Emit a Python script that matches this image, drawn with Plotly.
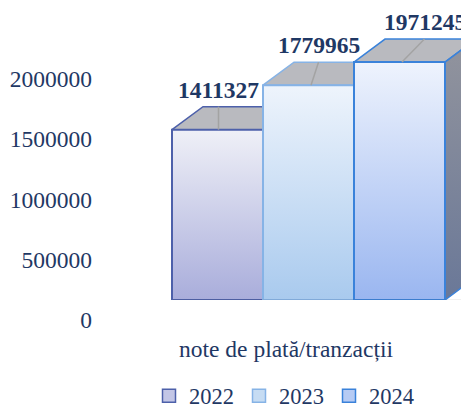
import plotly.graph_objects as go

# ---- data ----
years = ["2022", "2023", "2024"]
values = [1411327, 1779965, 1971245]
category = "note de plată/tranzacții"
y_ticks = [0, 500000, 1000000, 1500000, 2000000]

# ---- styles ----
FONT = "Liberation Serif, Times New Roman, serif"
NAVY = "#1f3864"
front_top = ["#eff0f7", "#eef4fc", "#eef3fd"]
front_bot = ["#a9addb", "#a9caee", "#9ab6f0"]
legend_fill = ["#c3c6e6", "#c6dcf3", "#b6cbf4"]
edge = ["#4d60aa", "#86b3e6", "#3a82da"]
top_fill = "#b9babf"

W, H = 469, 410
OFF = 8                            # page body margin offset
ML, MT = 100 - OFF, 10 - OFF
PLOT_BOTTOM = 300 - OFF
MB = H - PLOT_BOTTOM
MR = 0
plot_w = W - ML - MR
plot_h = H - MT - MB
px_x = 91.0                       # pixels per category unit
px_y = 120.7e-6                   # pixels per value unit
xmin = -0.5 - 72 / px_x
xmax = xmin + plot_w / px_x
ymax = plot_h / px_y
DX = 31 / px_x                    # depth offset (x, data units)
DY = 23 / px_y                    # depth offset (y, data units)
LABEL_DX_PX = [1, 10, 25]
LEAD_DX_PX = [1, 2.5, 2.5]

fig = go.Figure()

n = len(values)
for i, (yr, v) in enumerate(zip(years, values)):
    x0, x1 = i - 0.5, i + 0.5
    # top face
    fig.add_trace(go.Scatter(
        x=[x0, x1, x1 + DX, x0 + DX, x0], y=[v, v, v + DY, v + DY, v],
        mode="lines", fill="toself", fillcolor=top_fill,
        line=dict(color=edge[i], width=1.5), showlegend=False, hoverinfo="skip"))
    # right side face for last bar
    if i == n - 1:
        fig.add_trace(go.Scatter(
            x=[x1, x1, x1 + DX, x1 + DX, x1], y=[0, v, v + DY, DY, 0],
            mode="lines", fill="toself",
            fillgradient=dict(type="vertical", colorscale=[[0, "#6a7898"], [1, "#92949d"]]),
            line=dict(color=edge[i], width=1.5), showlegend=False, hoverinfo="skip"))
    # front face
    fig.add_trace(go.Scatter(
        x=[x0, x1, x1, x0, x0], y=[0, 0, v, v, 0],
        mode="lines", fill="toself",
        fillgradient=dict(type="vertical", colorscale=[[0, front_bot[i]], [1, front_top[i]]]),
        line=dict(color=edge[i], width=2), showlegend=False, name=yr,
        hovertemplate=yr + ": %{text}<extra></extra>", text=[v] * 5))
    # leader line
    lx = i + LABEL_DX_PX[i] / px_x
    fig.add_trace(go.Scatter(
        x=[i + LEAD_DX_PX[i] / px_x, lx], y=[v, v + DY],
        mode="lines", line=dict(color="#a3a3a3", width=1.5),
        showlegend=False, hoverinfo="skip"))
    # data label
    fig.add_annotation(x=lx, y=v + DY, text=f"<b>{v}</b>", showarrow=False,
                       yanchor="bottom", yshift=2,
                       font=dict(family=FONT, size=23.5, color=NAVY))

# shadow below bars
fig.add_trace(go.Scatter(x=[-0.5, n - 0.5 + DX * 0.8], y=[-0.01e6, -0.01e6], mode="lines",
                         line=dict(color="rgba(90,90,90,0.35)", width=3),
                         showlegend=False, hoverinfo="skip"))

# legend-only entries
for i, yr in enumerate(years):
    fig.add_trace(go.Scatter(
        x=[None], y=[None], mode="markers", name=yr,
        marker=dict(symbol="square", size=13, color=legend_fill[i],
                    line=dict(color=edge[i], width=1.5))))

fig.add_annotation(x=(286 - OFF - ML) / plot_w, xref="paper",
                   y=(PLOT_BOTTOM - (349 - OFF)) / plot_h, yref="paper",
                   text=category, showarrow=False, yanchor="middle", xanchor="center",
                   font=dict(family=FONT, size=23.5, color=NAVY))

fig.update_layout(
    width=W, height=H,
    margin=dict(l=ML, r=MR, t=MT, b=MB, autoexpand=False),
    plot_bgcolor="white", paper_bgcolor="white",
    font=dict(family=FONT, color=NAVY),
    xaxis=dict(range=[xmin, xmax], visible=False, fixedrange=True, automargin=False),
    yaxis=dict(range=[0, ymax], tickvals=y_ticks, ticktext=[str(t) for t in y_ticks],
               showgrid=False, zeroline=False, showline=False, automargin=False,
               tickfont=dict(family=FONT, size=23.5, color=NAVY),
               ticklabelshift=20, ticklabelstandoff=7, fixedrange=True),
    legend=dict(orientation="h", x=(284 - OFF - ML) / plot_w, xanchor="center",
                y=(PLOT_BOTTOM - (396 - OFF)) / plot_h, yanchor="middle",
                font=dict(family=FONT, size=22.5, color=NAVY),
                itemwidth=30, tracegroupgap=0),
    showlegend=True,
)

fig.write_html("out.html")
